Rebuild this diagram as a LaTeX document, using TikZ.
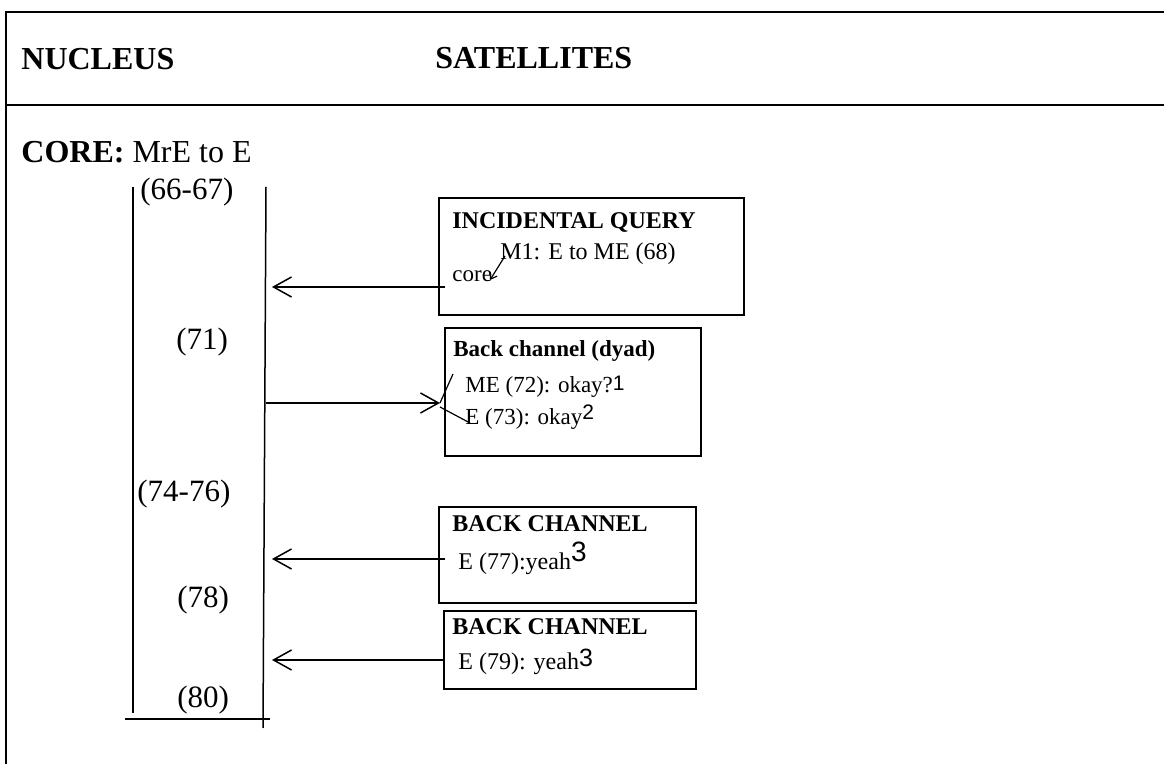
\documentclass[tikz,border=0pt]{standalone}
\usepackage{fontspec}
\setmainfont{Liberation Serif}
\setsansfont{Liberation Sans}
\usetikzlibrary{arrows.meta}

\begin{document}
\begin{tikzpicture}[x=0.5pt,y=-0.5pt,
		frame/.style={line width=1pt},
		rule/.style={line width=0.75pt},
		satbox/.style={draw,line width=1pt,inner sep=0pt,anchor=north west},
		head/.style={anchor=base west,inner sep=0pt,font=\fontsize{16}{19}\selectfont\bfseries},
		lbl/.style={anchor=base west,inner sep=0pt,font=\fontsize{15.5}{18}\selectfont},
		boxhead/.style={anchor=base west,inner sep=0pt,font=\fontsize{12}{14}\selectfont\bfseries},
		boxtxt/.style={anchor=base west,inner sep=0pt,font=\fontsize{12}{14}\selectfont},
		satarrow/.style={line width=0.75pt,-{Straight Barb[length=9pt,width=10pt]}},
		pointer/.style={line width=0.6pt}]
		\useasboundingbox (0,0) rectangle (1164,764);
		
		\draw[frame] (1164,12) -- (6,12) -- (6,764);
		\draw[frame] (6,105) -- (1164,105);
		\node[head] (nucleus) at (21,70) {NUCLEUS};
		\node[head] (satellites) at (435,69) {SATELLITES};
		\node[head] (core) at (21,163) {CORE:\mdseries{} MrE to E};
		
		\coordinate (nucL) at (133,187);
		\coordinate (nucLend) at (133,713);
		\coordinate (nucR) at (266,187);
		\coordinate (nucRend) at (263,728);
		\coordinate (baseL) at (125,719);
		\coordinate (baseR) at (270,719);
		\coordinate (tipL) at (272,0);
		\draw[rule] (nucL) -- (nucLend);
		\draw[rule] (nucR) -- (nucRend);
		\draw[rule] (baseL) -- (baseR);
		
		\node[lbl] (l66) at (140,200) {(66-67)};
		\node[lbl] (l71) at (176,350) {(71)};
		\node[lbl] (l74) at (137,502) {(74-76)};
		\node[lbl] (l78) at (177,608) {(78)};
		\node[lbl] (l80) at (177,708) {(80)};
		
		\node[satbox,minimum width=152.5pt,minimum height=58.5pt] (query) at (438,197) {};
		\node[boxhead] (queryhead) at (452,229) {INCIDENTAL QUERY};
		\node[boxtxt] (m1) at (500,260) {M1: E to ME (68)};
		\node[boxtxt,font=\fontsize{11.5}{14}\selectfont] (corenote) at (452,282) {core};
		\coordinate (m1foot) at (505,256);
		\coordinate (corefoot) at (490,280);
		\draw[pointer,-{Straight Barb[length=3pt,width=4pt]}] (m1foot) -- (corefoot);
		\coordinate (q-in) at (445,287);
		\draw[satarrow] (q-in) -- (q-in -| tipL);
		
		\node[satbox,minimum width=128pt,minimum height=64pt] (dyad) at (444,327) {};
		\node[boxhead,font=\fontsize{11.5}{14}\selectfont\bfseries] (dyadhead) at (453,357) {Back channel (dyad)};
		\node[boxtxt,font=\fontsize{11.5}{14}\selectfont] (me72) at (465,393) {ME (72): okay?\raisebox{1pt}{\sffamily\fontsize{10.5}{12}\selectfont 1}};
		\node[boxtxt,font=\fontsize{11.5}{14}\selectfont] (e73) at (465,425) {E (73): okay\raisebox{2.5pt}{\sffamily\fontsize{10.5}{12}\selectfont 2}};
		\coordinate (dy-tip) at (440,403);
		\coordinate (dy-low) at (440,407);
		\coordinate (me72foot) at (453,374);
		\coordinate (e73foot) at (470,423);
		\draw[satarrow] (dy-tip -| nucR) -- (dy-tip);
		\draw[pointer] (dy-tip) -- (me72foot);
		\draw[pointer] (dy-low) -- (e73foot);
		
		\node[satbox,minimum width=128.5pt,minimum height=48pt] (back1) at (438,506) {};
		\node[boxhead] (back1head) at (452,532) {BACK CHANNEL};
		\node[boxtxt] (e77) at (458,570) {E (77):yeah\raisebox{4pt}{\sffamily\fontsize{14}{16}\selectfont 3}};
		\coordinate (b1-in) at (445,559);
		\draw[satarrow] (b1-in) -- (b1-in -| tipL);
		
		\node[satbox,minimum width=126pt,minimum height=39pt] (back2) at (443,610) {};
		\node[boxhead] (back2head) at (452,635) {BACK CHANNEL};
		\node[boxtxt] (e79) at (458,670) {E (79): yeah\raisebox{1.5pt}{\sffamily\fontsize{12.5}{14}\selectfont 3}};
		\coordinate (b2-in) at (445,660);
		\draw[satarrow] (b2-in) -- (b2-in -| tipL);
	\end{tikzpicture}
\end{document}
